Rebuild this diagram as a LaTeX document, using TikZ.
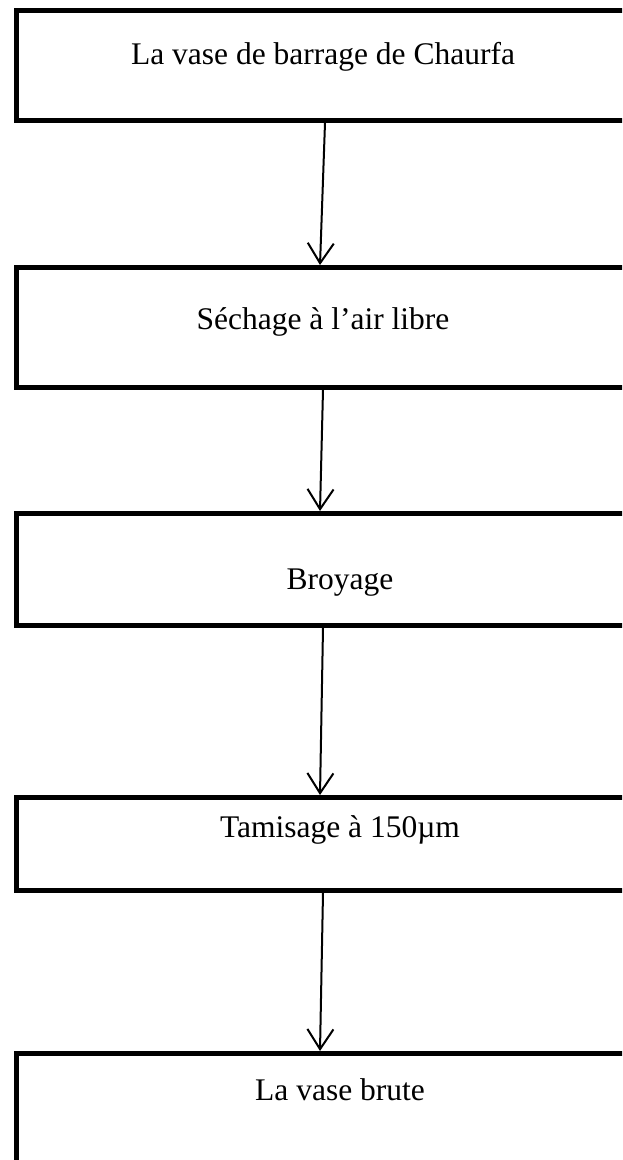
\documentclass[tikz,border=0pt]{standalone}
\usepackage{fontspec}
\setmainfont{Liberation Serif}
\usetikzlibrary{arrows.meta}
\begin{document}
\begin{tikzpicture}[x=1pt,y=-1pt,
  stepbox/.style={draw=black,line width=5pt,rectangle,inner sep=0pt,outer sep=0pt,anchor=north west},
  lbl/.style={font=\fontsize{31.5}{36}\selectfont,inner sep=0pt},
  flow/.style={line width=2pt,-{Straight Barb[length=20pt,width=26pt,line width=2pt]}}]
\useasboundingbox (0,0) rectangle (622,1160);
\clip (0,0) rectangle (622,1160);
\fill[white] (0,0) rectangle (622,1160);
% boxes
\node[stepbox,minimum width=640pt,minimum height=110pt] (b1) at (16.5,10.5) {};
\node[stepbox,minimum width=640pt,minimum height=120pt] (b2) at (16.5,267.5) {};
\node[stepbox,minimum width=640pt,minimum height=112pt] (b3) at (16.5,513) {};
\node[stepbox,minimum width=640pt,minimum height=93pt] (b4) at (16.5,797) {};
\node[stepbox,minimum width=640pt,minimum height=112pt] (b5) at (16.5,1053) {};
% labels
\node[lbl] (t1) at (323,57) {La vase de barrage de Chaurfa};
\node[lbl] (t2) at (323,322) {Séchage à l’air libre};
\node[lbl] (t3) at (340,583) {Broyage};
\node[lbl] (t4) at (340,830) {Tamisage à 150µm};
\node[lbl] (t5) at (340,1090) {La vase brute};
% connector end points
\coordinate (a1s) at (325,123);
\coordinate (a1e) at (320,265);
\coordinate (a2s) at (323,390);
\coordinate (a2e) at (320,511);
\coordinate (a3s) at (323,628);
\coordinate (a3e) at (320,795);
\coordinate (a4s) at (323,893);
\coordinate (a4e) at (320,1051);
\draw[flow] (a1s) -- (a1e);
\draw[flow] (a2s) -- (a2e);
\draw[flow] (a3s) -- (a3e);
\draw[flow] (a4s) -- (a4e);
\end{tikzpicture}
\end{document}
